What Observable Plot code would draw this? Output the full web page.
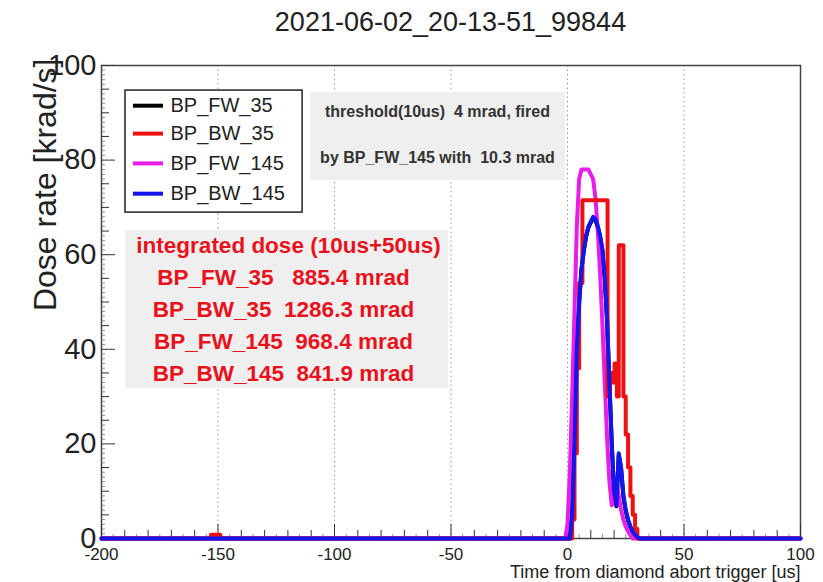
<!DOCTYPE html>
<html>
<head>
<meta charset="utf-8">
<script src="https://cdn.jsdelivr.net/npm/d3@7"></script>
<script src="https://cdn.jsdelivr.net/npm/@observablehq/plot@0.6"></script>
<style>
  body { margin: 0; background: #fff; font-family: "Liberation Sans", Arial, sans-serif; }
  #title { height: 40px; width: 823px; box-sizing: border-box; padding-left: 78px; text-align: center;
           font-size: 27px; line-height: 44px; color: #222; white-space: nowrap; }
  #chart svg { display: block; }
</style>
</head>
<body>
<div id="title"></div>
<div id="chart"></div>
<script>
// ---------------- data ----------------
const chartTitle = "2021-06-02_20-13-51_99844";
const xLabel = "Time from diamond abort trigger [us]";
const yLabel = "Dose rate [krad/s]";

const seriesNames  = ["BP_FW_35", "BP_BW_35", "BP_FW_145", "BP_BW_145"];
const seriesColors = ["#000000", "#ee1111", "#e81ee8", "#1414ee"];

// BP_FW_35 (black, hidden under the others)
const fw35T = [-200, 1, 2, 3, 4, 5, 6, 7, 8, 9, 10, 11, 12, 13, 14, 15, 16, 17, 18, 19, 20, 21, 22, 23, 24, 25, 26, 27, 28, 29, 30, 31, 100];
const fw35V = [0, 0, 5, 20, 39.8, 49.8, 56.8, 60.8, 63.8, 65.8, 66.8, 67.7, 67.3, 65.8, 63.8, 60.8, 54.8, 45.8, 32.8, 19.8, 9.8, 6.8, 17.7, 14.8, 8.8, 5.8, 3.8, 2.4, 1.4, 0.7, 0.2, 0, 0];
// BP_BW_35 (red, histogram steps)
const bw35T = [-200, -153, -149, 1, 2, 3, 4, 5, 6.4, 17.2, 18.2, 19.2, 20.2, 21.2, 22, 24, 25, 26, 27, 28, 29, 30, 100];
const bw35V = [0, 0.8, 0, 0, 4, 18, 36, 54, 71.5, 30, 35, 33, 37, 30, 62, 30, 22, 15, 9, 5, 2, 0, 0];
// BP_FW_145 (magenta)
const fw145T = [-200, -1, 0, 1, 2, 3, 4, 5, 6, 9, 10, 11, 12, 13, 14, 15, 16, 17, 18, 19, 20, 21, 22, 23, 24, 25, 26, 27, 28, 100];
const fw145V = [0, 0, 3, 14, 30, 48, 66, 76, 78, 78, 77, 76, 72, 65, 56, 45, 33, 21, 12, 7, 9, 12, 9, 6, 4, 2.5, 1.5, 0.7, 0, 0];
// BP_BW_145 (blue)
const bw145T = [-200, 1, 2, 3, 4, 5, 6, 7, 8, 9, 10, 11, 12, 13, 14, 15, 16, 17, 18, 19, 20, 21, 22, 23, 24, 25, 26, 27, 28, 29, 30, 31, 100];
const bw145V = [0, 0, 5, 20, 40, 50, 57, 61, 64, 66, 67, 68, 67.5, 66, 64, 61, 55, 46, 33, 20, 10, 7, 18, 15, 9, 6, 4, 2.5, 1.5, 0.8, 0.3, 0, 0];

const xTicks = [-200, -150, -100, -50, 0, 50, 100];
const xGrid = [-150, -100, -50, 0, 50];
const yTicks = [0, 20, 40, 60, 80, 100];

const thresholdLines = ["threshold(10us)\u00a0\u00a04 mrad, fired", "by BP_FW_145 with\u00a0\u00a010.3 mrad"];
const doseTitle = "integrated dose (10us+50us)";
const doseLines = [
  "BP_FW_35\u00a0\u00a0\u00a0885.4 mrad",
  "BP_BW_35\u00a0\u00a01286.3 mrad",
  "BP_FW_145\u00a0\u00a0968.4 mrad",
  "BP_BW_145\u00a0\u00a0841.9 mrad"
];

// ---------------- layout (data units) ----------------
const W = 823, H = 542;
const mL = 101, mR = 23, mT = 25, mB = 44;
const plotW = W - mL - mR, plotH = H - mT - mB;

const legendBox = {x1: -189.7, x2: -113.7, y1: 68.9, y2: 94.7};
const legendRowY = [91.5, 85.6, 79.3, 72.9];
const thresholdBox = {x1: -110.3, x2: -0.9, y1: 75.7, y2: 94.3};
const thresholdY = [90.1, 80.5];
const doseBox = {x1: -189.7, x2: -51.1, y1: 31.7, y2: 65.1};
const doseTitleY = 61.9;
const doseLineY = [55.2, 48.4, 41.6, 34.9];

// ---------------- build ----------------
document.getElementById("title").textContent = chartTitle;

const mk = (T, V) => T.map((t, i) => ({t, v: V[i]}));
const sFW35 = mk(fw35T, fw35V), sBW35 = mk(bw35T, bw35V), sFW145 = mk(fw145T, fw145V), sBW145 = mk(bw145T, bw145V);

const yMajor = yTicks;
const yMed = d3.range(0, 101, 5).filter(d => d % 20 !== 0);
const yMin = d3.range(0, 101, 1).filter(d => d % 5 !== 0);
const xMed = d3.range(-200, 101, 10).filter(d => d % 50 !== 0);
const xMin = d3.range(-200, 101, 5).filter(d => d % 10 !== 0);

const legendRows = seriesNames.map((n, i) => ({n, c: seriesColors[i], y: legendRowY[i]}));
const thrRows = thresholdLines.map((s, i) => ({s, y: thresholdY[i]}));
const doseRows = doseLines.map((s, i) => ({s, y: doseLineY[i]}));

const fontFam = "'Liberation Sans', Arial, Helvetica, sans-serif";
const red = "#e8121c";

const plot = Plot.plot({
  width: W, height: H,
  marginLeft: mL, marginRight: mR, marginTop: mT, marginBottom: mB,
  style: {fontFamily: fontFam, fontSize: "17px", color: "#222", background: "#fff"},
  x: {domain: [-200, 100], axis: null},
  y: {domain: [0, 100], axis: null},
  marks: [
    Plot.ruleX(xGrid, {x: d => d, stroke: "#999", strokeDasharray: "1.5,3", strokeWidth: 1}),
    Plot.frame({stroke: "#444", strokeWidth: 1.5}),
    // ticks (inside the frame)
    Plot.tickY(yMajor, {y: d => d, insetRight: plotW - 14, stroke: "#333"}),
    Plot.tickY(yMed, {y: d => d, insetRight: plotW - 8, stroke: "#333"}),
    Plot.tickY(yMin, {y: d => d, insetRight: plotW - 4, stroke: "#666", strokeWidth: 0.7}),
    Plot.tickX(xTicks, {x: d => d, insetTop: plotH - 14, stroke: "#333"}),
    Plot.tickX(xMed, {x: d => d, insetTop: plotH - 8, stroke: "#333"}),
    Plot.tickX(xMin, {x: d => d, insetTop: plotH - 4, stroke: "#666", strokeWidth: 0.7}),
    // series
    Plot.line(sFW35, {x: "t", y: "v", stroke: seriesColors[0], strokeWidth: 4}),
    Plot.line(sFW145, {x: "t", y: "v", stroke: seriesColors[2], strokeWidth: 4}),
    Plot.line(sBW35, {x: "t", y: "v", stroke: seriesColors[1], strokeWidth: 4, curve: "step-after"}),
    Plot.line(sBW145, {x: "t", y: "v", stroke: seriesColors[3], strokeWidth: 4}),
    // axes
    Plot.axisY({ticks: yTicks, tickSize: 0, tickPadding: 5, fontSize: 29, label: null, tickFormat: d => String(d), fill: "#222"}),
    Plot.axisX({ticks: xTicks, tickSize: 0, tickPadding: 9, fontSize: 17, label: null, tickFormat: d => String(d), fill: "#222"}),
    Plot.text([yLabel], {frameAnchor: "top-left", rotate: -90, textAnchor: "end", lineAnchor: "middle", dx: -56, dy: -7, fontSize: 32, fill: "#222"}),
    Plot.text([xLabel], {frameAnchor: "bottom-right", textAnchor: "end", lineAnchor: "middle", dy: 34, fontSize: 18, fill: "#222"}),
    // legend
    Plot.rect([legendBox], {x1: "x1", x2: "x2", y1: "y1", y2: "y2", fill: "#fff", stroke: "#222", strokeWidth: 1.5}),
    Plot.ruleY(legendRows, {y: "y", x1: -186.3, x2: -173.4, stroke: "c", strokeWidth: 4}),
    Plot.text(legendRows, {x: -170.4, y: "y", text: "n", textAnchor: "start", fontSize: 20, fill: "#222"}),
    // threshold box
    Plot.rect([thresholdBox], {x1: "x1", x2: "x2", y1: "y1", y2: "y2", fill: "#efefef"}),
    Plot.text(thrRows, {x: -55.8, y: "y", text: "s", fontSize: 16, fontWeight: "bold", fill: "#333"}),
    // dose box
    Plot.rect([doseBox], {x1: "x1", x2: "x2", y1: "y1", y2: "y2", fill: "#efefef"}),
    Plot.text([doseTitle], {x: -119.7, y: doseTitleY, fontSize: 22.5, fontWeight: "bold", fill: red}),
    Plot.text(doseRows, {x: -121.9, y: "y", text: "s", fontSize: 22.5, fontWeight: "bold", fill: red})
  ]
});
document.getElementById("chart").appendChild(plot);
</script>
</body>
</html>
